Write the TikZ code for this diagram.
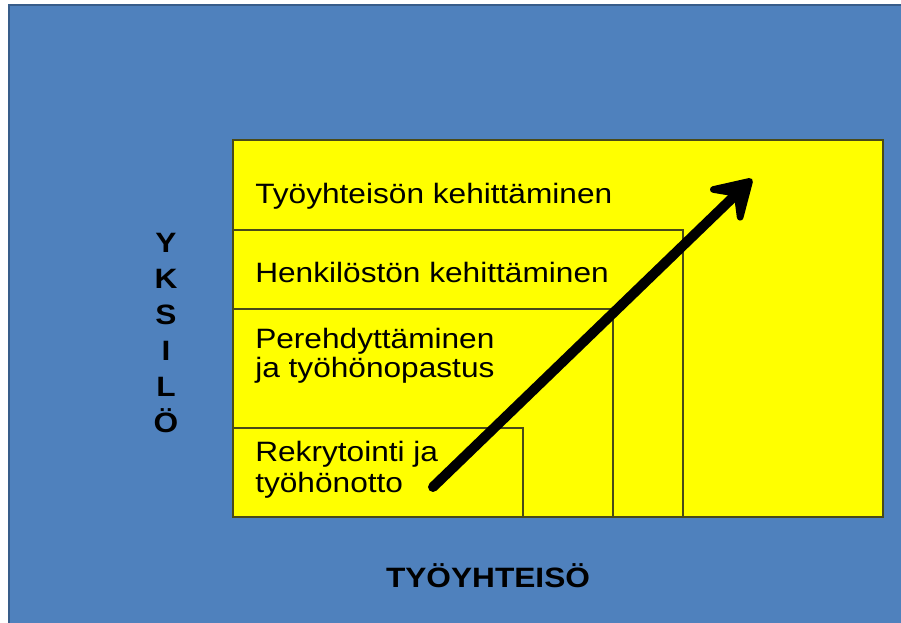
\documentclass[tikz,border=0pt]{standalone}
\usepackage{fontspec}
\setmainfont{Liberation Sans}[FakeStretch=1.13]
\usetikzlibrary{arrows.meta, positioning}
\definecolor{slideblue}{HTML}{4F81BD}
\definecolor{slideedge}{HTML}{385D8A}
\definecolor{boxyellow}{HTML}{FFFF00}
\definecolor{boxedge}{HTML}{4A4A18}
\tikzset{
	layerbox/.style={draw=boxedge, line width=0.9pt, fill=boxyellow}
}
\tikzset{
	boxtext/.style={font=\fontsize{21}{24}\selectfont, anchor=base west, inner sep=0pt}
}
\tikzset{
	axistext/.style={font=\fontsize{21}{24}\selectfont\bfseries, anchor=base, inner sep=0pt}
}
\begin{document}
\begin{tikzpicture}[x=0.75pt, y=-0.75pt]

			\fill[white] (0,0) rectangle (901,623);
			\useasboundingbox (0,0) rectangle (901,623);
			\draw[fill=slideblue, draw=slideedge, line width=1.5pt] (9,5) rectangle (910,630);

			\begin{scope}
				\draw[layerbox] (233,140) rectangle (883,517);
				\draw[layerbox] (233,230) rectangle (683,517);
				\draw[layerbox] (233,309) rectangle (613,517);
				\draw[layerbox] (233,428) rectangle (523,517);
			\end{scope}

			\begin{scope}
				\node[boxtext] (t1) at (255,204) {Työyhteisön kehittäminen};
				\node[boxtext] (t2) at (255,283) {Henkilöstön kehittäminen};
				\node[boxtext] (t3) at (255,349) {Perehdyttäminen};
				\node[boxtext] (t4) at (255,378) {ja työhönopastus};
				\node[boxtext] (t5) at (255,462) {Rekrytointi ja};
				\node[boxtext] (t6) at (255,493) {työhönotto};
			\end{scope}

			\begin{scope}
				\node[axistext] (y1) at (166,253) {Y};
				\node[axistext] (y2) at (166,289) {K};
				\node[axistext] (y3) at (166,325) {S};
				\node[axistext] (y4) at (166,361) {I};
				\node[axistext] (y5) at (166,397) {L};
				\node[axistext] (y6) at (166,433) {Ö};

				\node[axistext] (x1) at (488,588) {TYÖYHTEISÖ};
			\end{scope}

			\coordinate (aS) at (433,487);
			\coordinate (aE) at (752,179);
			\draw[line width=7.5pt, line cap=round, -{Stealth[length=38pt, width=46pt, inset=17pt, round, line width=5pt]}] (aS) -- (aE);

		\end{tikzpicture}
\end{document}
